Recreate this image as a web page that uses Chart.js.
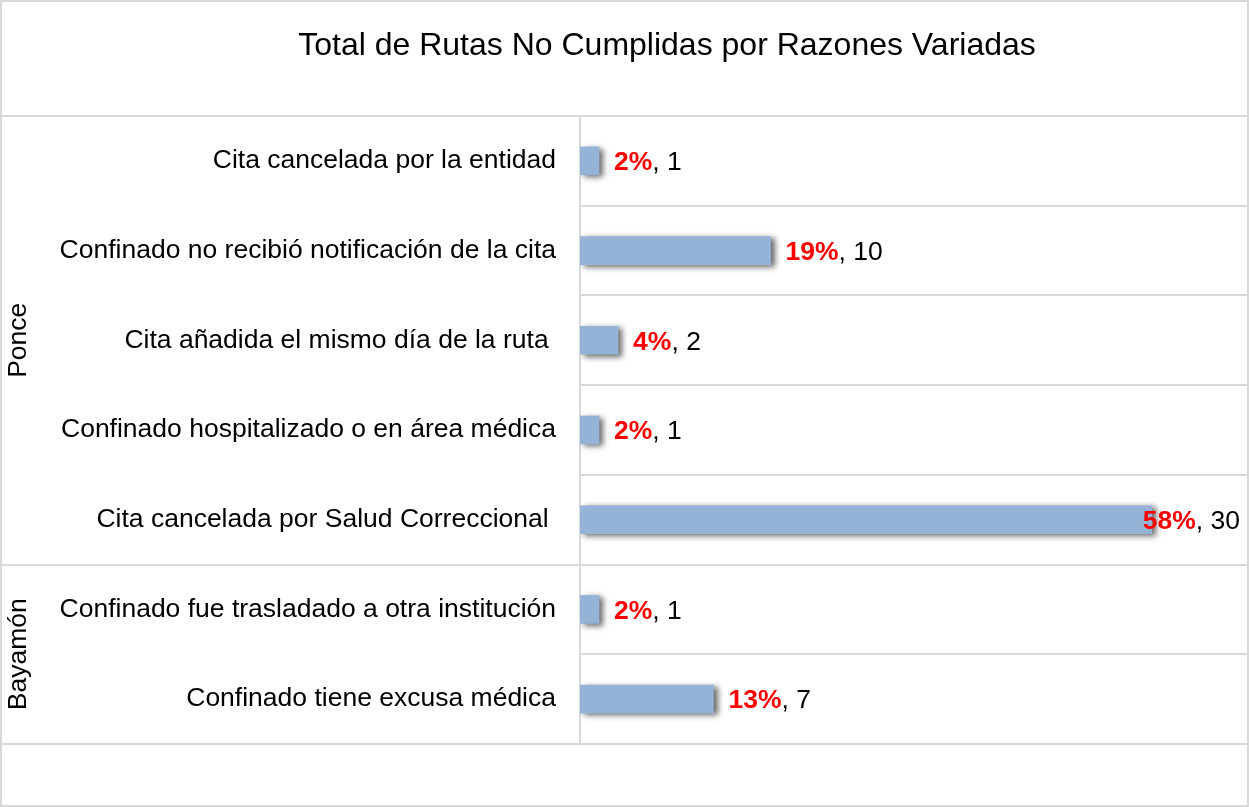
<!DOCTYPE html>
<html>
<head>
<meta charset="utf-8">
<script src="https://cdn.jsdelivr.net/npm/chart.js@4/dist/chart.umd.min.js"></script>
<style>
  html, body { margin: 0; padding: 0; background: #ffffff; }
  #wrap { width: 1249px; height: 807px; position: relative; }
</style>
</head>
<body>
<div id="wrap"><canvas id="c" width="1249" height="807"></canvas></div>
<script>
// ---- Data ----
const chartTitle = 'Total de Rutas No Cumplidas por Razones Variadas';
const categories = [
  'Cita cancelada por la entidad',
  'Confinado no recibió notificación de la cita',
  'Cita añadida el mismo día de la ruta ',
  'Confinado hospitalizado o en área médica',
  'Cita cancelada por Salud Correccional ',
  'Confinado fue trasladado a otra institución',
  'Confinado tiene excusa médica'
];
const counts = [1, 10, 2, 1, 30, 1, 7];
const percents = ['2%', '19%', '4%', '2%', '58%', '2%', '13%'];
const groups = ['Ponce', 'Bayamón'];
const groupSizes = [5, 2];

const FONT = '"Liberation Sans", Arial, sans-serif';
const LINE = '#d9d9d9';

const framePlugin = {
  id: 'frame',
  beforeDraw(chart) {
    const ctx = chart.ctx;
    const ca = chart.chartArea;
    const y = chart.scales.y;
    const W = chart.width, H = chart.height;
    const step = (y.getPixelForValue(1) - y.getPixelForValue(0));
    ctx.save();
    ctx.fillStyle = '#ffffff';
    ctx.fillRect(0, 0, W, H);
    ctx.strokeStyle = LINE;
    ctx.lineWidth = 2;
    ctx.strokeRect(1, 1, W - 2, H - 2);
    for (let i = 1; i < categories.length; i++) {
      const py = Math.round(y.getPixelForValue(i) - step / 2);
      ctx.beginPath(); ctx.moveTo(ca.left, py); ctx.lineTo(W - 1, py); ctx.stroke();
    }
    let idx = 0;
    const fullLines = [Math.round(y.getPixelForValue(0) - step / 2)];
    for (const s of groupSizes) { idx += s; fullLines.push(Math.round(y.getPixelForValue(idx - 1) + step / 2)); }
    for (const py of fullLines) {
      ctx.beginPath(); ctx.moveTo(1, py); ctx.lineTo(W - 1, py); ctx.stroke();
    }
    ctx.beginPath();
    ctx.moveTo(ca.left, fullLines[0]); ctx.lineTo(ca.left, fullLines[fullLines.length - 1]);
    ctx.stroke();
    ctx.restore();
  },
  afterDraw(chart) {
    const ctx = chart.ctx;
    const y = chart.scales.y;
    const step = (y.getPixelForValue(1) - y.getPixelForValue(0));
    ctx.save();
    ctx.fillStyle = '#000000';
    ctx.font = '32px ' + FONT;
    ctx.textAlign = 'center';
    ctx.textBaseline = 'middle';
    ctx.fillText(chartTitle, 667, 46);
    ctx.font = '26.5px ' + FONT;
    let start = 0;
    groups.forEach((g, gi) => {
      const top = y.getPixelForValue(start) - step / 2;
      const bot = y.getPixelForValue(start + groupSizes[gi] - 1) + step / 2;
      ctx.save();
      ctx.translate(19, (top + bot) / 2);
      ctx.rotate(-Math.PI / 2);
      ctx.textAlign = 'center';
      ctx.textBaseline = 'middle';
      ctx.fillText(g, 0, 0);
      ctx.restore();
      start += groupSizes[gi];
    });
    const meta = chart.getDatasetMeta(0);
    const boldFont = 'bold 26.5px ' + FONT;
    const normFont = '26.5px ' + FONT;
    meta.data.forEach((bar, i) => {
      const p = percents[i];
      const rest = ', ' + counts[i];
      ctx.font = boldFont; const w1 = ctx.measureText(p).width;
      ctx.font = normFont; const w2 = ctx.measureText(rest).width;
      let x = bar.x + 15;
      const limit = 1240;
      if (x + w1 + w2 > limit) x = limit - w1 - w2;
      ctx.textAlign = 'left';
      ctx.textBaseline = 'middle';
      ctx.font = boldFont; ctx.fillStyle = '#FF0000';
      ctx.fillText(p, x, bar.y + 2);
      ctx.font = normFont; ctx.fillStyle = '#000000';
      ctx.fillText(rest, x + w1, bar.y + 2);
    });
    ctx.restore();
  }
};

const shadowPlugin = {
  id: 'barShadow',
  beforeDatasetsDraw(chart) {
    const ctx = chart.ctx;
    ctx.save();
    ctx.shadowColor = 'rgba(0,0,0,0.6)';
    ctx.shadowBlur = 6;
    ctx.shadowOffsetX = 4;
    ctx.shadowOffsetY = 2;
  },
  afterDatasetsDraw(chart) {
    chart.ctx.restore();
  }
};

new Chart(document.getElementById('c'), {
  type: 'bar',
  data: {
    labels: categories,
    datasets: [{
      data: counts,
      backgroundColor: '#95B3D7',
      borderWidth: 0,
      barThickness: 28
    }]
  },
  options: {
    indexAxis: 'y',
    responsive: false,
    animation: false,
    events: [],
    layout: { padding: { top: 116, bottom: 63, left: 0, right: 2 } },
    plugins: {
      legend: { display: false },
      title: { display: false },
      tooltip: { enabled: false }
    },
    scales: {
      x: { display: false, min: 0, max: 35 },
      y: {
        grid: { display: false, drawTicks: false },
        border: { display: false },
        ticks: {
          color: '#000000',
          font: { family: FONT, size: 26.5 },
          padding: 24,
          autoSkip: false
        },
        afterFit(scale) { scale.width = 580; }
      }
    }
  },
  plugins: [framePlugin, shadowPlugin]
});
</script>
</body>
</html>
